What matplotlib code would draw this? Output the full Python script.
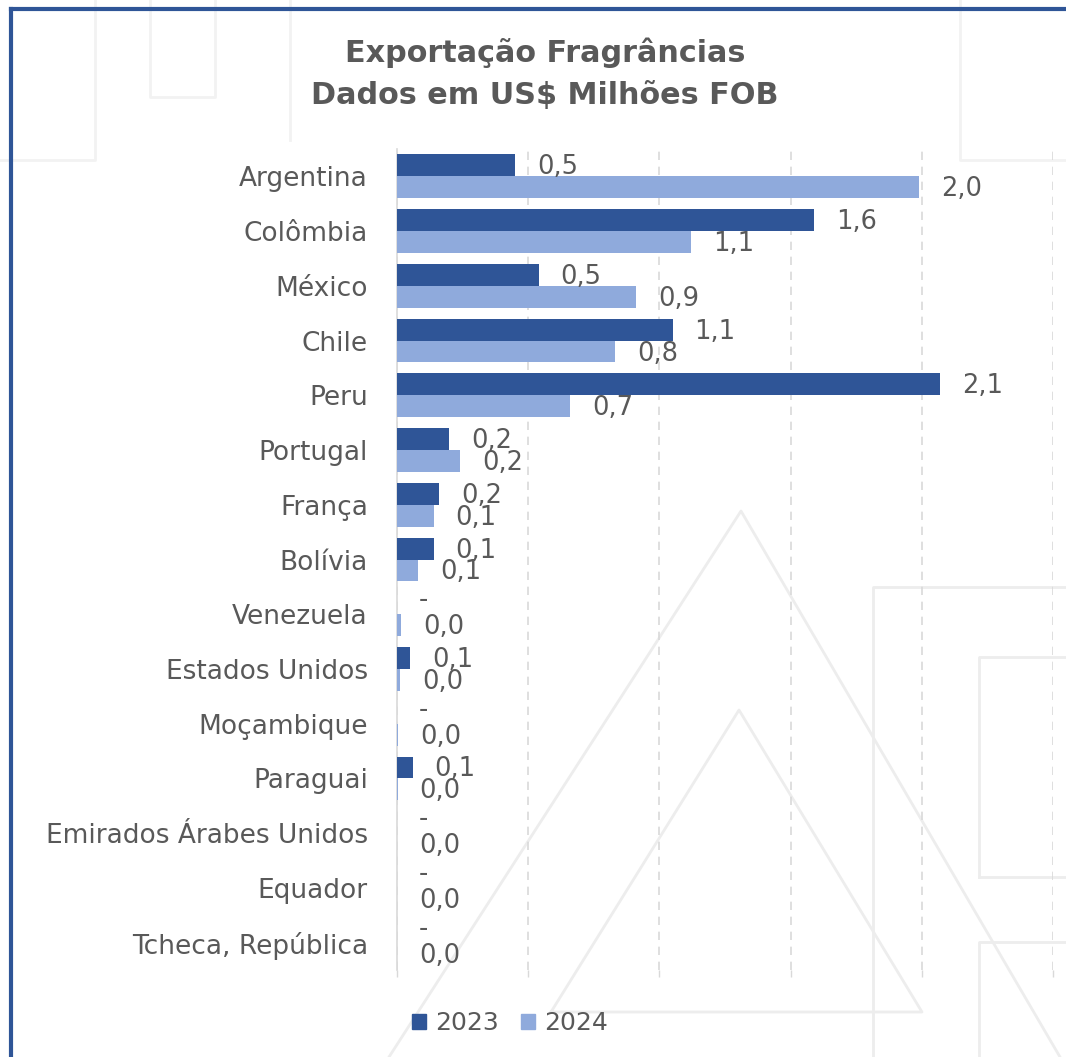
import matplotlib
matplotlib.use("Agg")
import matplotlib.pyplot as plt
from matplotlib.lines import Line2D
from matplotlib.patches import Patch
import numpy as np

countries = ["Argentina", "Colômbia", "México", "Chile", "Peru", "Portugal", "França",
             "Bolívia", "Venezuela", "Estados Unidos", "Moçambique", "Paraguai",
             "Emirados Árabes Unidos", "Equador", "Tcheca, República"]
v2023 = [0.45, 1.59, 0.54, 1.05, 2.07, 0.20, 0.16, 0.14, 0.0, 0.05, 0.0, 0.06, 0.0, 0.0, 0.0]
v2024 = [1.99, 1.12, 0.91, 0.83, 0.66, 0.24, 0.14, 0.08, 0.015, 0.011, 0.004, 0.002, 0.001, 0.001, 0.001]
series_names = ["2023", "2024"]
title_lines = ["Exportação Fragrâncias", "Dados em US$ Milhões FOB"]

C23 = "#2F5597"
C24 = "#8FAADC"
TXT = "#595959"
FONT = "DejaVu Sans"

W, H = 1066, 1057
fig = plt.figure(figsize=(W / 100, H / 100), dpi=100)
fig.patch.set_facecolor("white")

# faint watermark background
wm = "#EDEDED"
def fl(xs, ys, lw=2.0, c=wm):
    fig.add_artist(Line2D([x / W for x in xs], [1 - y / H for y in ys], color=c, lw=lw, zorder=0))
# big outer triangle
fl([389, 741, 1060], [1057, 511, 1057])
# inner triangle
fl([551, 739, 922, 551], [1012, 710, 1012, 1012])
# right-side rectangles
fl([873, 873, 1066], [1057, 587, 587])
fl([979, 979, 1066], [877, 657, 657])
fl([979, 1066], [877, 877])
fl([979, 979, 1066], [1057, 942, 942])
# top shapes
fl([150, 150, 215, 215], [0, 97, 97, 0], c="#F2F2F2")
fl([290, 290], [0, 140], c="#F2F2F2")
fl([0, 95, 95], [160, 160, 0], c="#F2F2F2")
fl([960, 960, 1066], [0, 160, 160], c="#F2F2F2")

# blue frame
fig.add_artist(Line2D([11 / W, 11 / W], [0, 1 - 9 / H], color=C23, lw=3, zorder=1))
fig.add_artist(Line2D([11 / W, 1], [1 - 9 / H, 1 - 9 / H], color=C23, lw=3, zorder=1))

ax = fig.add_axes([397 / W, 1 - 970 / H, 656 / W, 821 / H])
ax.patch.set_alpha(0)
n = len(countries)
y = np.arange(n)
bh = 0.4
ax.barh(y - bh / 2, v2023, height=bh, color=C23, zorder=3)
ax.barh(y + bh / 2, v2024, height=bh, color=C24, zorder=3)

ax.set_xlim(0, 2.5)
ax.set_ylim(n - 0.5, -0.5)
ax.set_yticks(y)
ax.set_yticklabels(countries, fontsize=19, color=TXT, family=FONT)
ax.tick_params(axis="y", length=0, pad=21)
ax.set_xticks([0, 0.5, 1.0, 1.5, 2.0, 2.5])
ax.set_xticklabels([])
ax.tick_params(axis="x", length=5, color="#D9D9D9", width=1)
ax.grid(axis="x", color="#D9D9D9", linestyle=(0, (5, 4)), lw=1.2, zorder=0)
for s in ["top", "right", "bottom"]:
    ax.spines[s].set_visible(False)
ax.spines["left"].set_color("#D9D9D9")
ax.spines["left"].set_linewidth(1.2)

def fmt(v):
    return "-" if v == 0 else f"{v:.1f}".replace(".", ",")

for i in range(n):
    dy = 3 if v2023[i] == 0 else -2
    ax.annotate(fmt(v2023[i]), (v2023[i], i - bh / 2), xytext=(22, dy), textcoords="offset pixels",
                ha="left", va="center", fontsize=18.5, color=TXT, family=FONT, zorder=4)
    ax.annotate(fmt(v2024[i]), (v2024[i], i + bh / 2), xytext=(22, -2), textcoords="offset pixels",
                ha="left", va="center", fontsize=18.5, color=TXT, family=FONT, zorder=4)

fig.text(545 / W, 1 - 74 / H, "\n".join(title_lines), ha="center", va="center",
         fontsize=21.8, fontweight="bold", color=TXT, family=FONT, linespacing=1.55)

handles = [Patch(color=C23), Patch(color=C24)]
fig.legend(handles, series_names, loc="center", bbox_to_anchor=(510 / W, 1 - 1023 / H),
           ncol=2, frameon=False, labelcolor=TXT, handlelength=0.55, handleheight=0.55,
           handletextpad=0.35, columnspacing=0.9, prop={"family": FONT, "size": 18})

fig.savefig("out.png", dpi=100, facecolor="white")
